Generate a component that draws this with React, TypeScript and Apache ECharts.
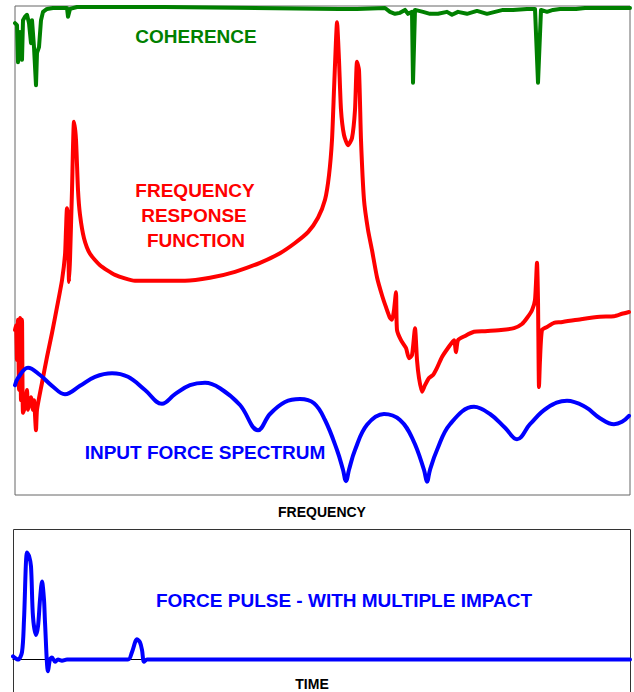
import React, { useEffect, useRef } from "react";
import * as echarts from "echarts";

// Coherence: [frequency (Hz), coherence 0..1]
const coherence: [number, number][] = [
  [0, 0.965], [2, 0.961], [3, 0.885], [5, 0.947], [7, 0.89], [8, 0.971], [10, 0.978],
  [12, 0.982], [14, 0.965], [16, 0.924], [17, 0.971], [19, 0.916], [21, 0.838], [22, 0.904],
  [24, 0.916], [26, 0.971], [28, 0.988], [32, 0.994], [38, 0.996], [52, 0.996], [53, 0.978],
  [55, 0.994], [62, 0.998], [150, 0.998], [324, 0.994], [342, 0.994], [370, 0.996],
  [375, 0.988], [380, 0.984], [385, 0.986], [390, 0.992], [393, 0.984], [397, 0.988],
  [398, 0.843], [400, 0.992], [408, 0.988], [415, 0.984], [423, 0.984], [432, 0.988],
  [437, 0.982], [443, 0.988], [452, 0.984], [462, 0.99], [472, 0.984], [480, 0.988],
  [488, 0.992], [498, 0.992], [512, 0.994], [520, 0.994], [523, 0.843], [526, 0.992],
  [532, 0.988], [538, 0.992], [545, 0.994], [561, 0.994], [570, 0.996], [615, 0.996],
];

// Frequency response function magnitude: [frequency (Hz), dB]
const frf: [number, number][] = [
  [0, -54.0], [1, -53.2], [2, -59.0], [3, -52.3], [4, -64.0], [5, -52.0], [6, -65.7],
  [7, -52.3], [8, -67.8], [10, -66.8], [12, -64.0], [13, -67.3], [16, -65.2], [18, -67.3],
  [19, -65.7], [21, -70.7], [22, -67.3], [27, -62.8], [32, -58.5], [37, -54.5], [42, -50.2],
  [47, -45.7], [50, -41.5], [51, -37.3], [52, -33.7], [53, -34.8], [54, -46.0], [55, -42.3],
  [57, -30.7], [59, -19.3], [61, -22.3], [63, -30.7], [65, -34.8], [69, -38.7], [75, -41.3],
  [85, -43.2], [100, -44.8], [120, -45.8], [145, -45.8], [170, -45.8], [195, -45.3],
  [220, -44.3], [245, -42.8], [265, -41.2], [280, -39.5], [293, -37.7], [303, -35.3],
  [310, -32.3], [314, -28.2], [317, -22.3], [319, -14.0], [321, -5.7], [322, -2.7],
  [324, -9.0], [326, -17.3], [329, -21.5], [333, -23.2], [337, -22.0], [340, -17.3],
  [342, -9.3], [344, -10.7], [346, -22.3], [349, -32.3], [353, -37.3], [357, -40.7],
  [362, -45.2], [367, -48.2], [371, -50.2], [375, -52.0], [377, -52.3], [379, -50.7],
  [381, -47.7], [382, -54.0], [386, -55.7], [391, -57.0], [394, -58.7], [397, -58.2],
  [400, -53.7], [402, -59.0], [404, -62.0], [407, -64.3], [410, -63.2], [414, -62.0],
  [418, -61.5], [422, -60.3], [427, -58.5], [433, -57.0], [439, -55.7], [441, -57.7],
  [443, -55.7], [450, -55.0], [459, -54.3], [470, -54.2], [486, -54.0], [499, -53.7],
  [507, -53.0], [512, -52.0], [517, -50.7], [520, -49.0], [522, -42.8], [523, -49.0],
  [524, -63.5], [525, -59.0], [527, -54.0], [532, -53.5], [539, -52.8], [546, -52.7],
  [566, -52.2], [585, -51.8], [599, -51.7], [607, -51.3], [614, -51.0],
];

// Input force spectrum: [frequency (Hz), dB]
const forceSpectrum: [number, number][] = [
  [0, -63.2], [3, -62.0], [13, -60.3], [25, -61.5], [37, -63.3], [50, -64.7], [65, -63.3],
  [80, -61.8], [97, -61.2], [113, -61.8], [130, -64.0], [147, -66.3], [160, -64.7],
  [175, -63.2], [190, -62.8], [205, -63.7], [225, -66.5], [243, -70.7], [255, -68.0],
  [270, -66.0], [285, -65.5], [299, -66.2], [310, -69.0], [322, -74.0], [328, -77.3],
  [331, -79.2], [334, -77.3], [340, -74.0], [352, -69.8], [369, -68.0], [385, -69.0],
  [398, -72.3], [409, -77.3], [412, -79.3], [415, -77.3], [422, -74.0], [435, -69.7],
  [459, -66.8], [475, -68.0], [490, -70.3], [502, -72.2], [515, -69.7], [532, -67.0],
  [552, -65.8], [570, -66.8], [585, -68.7], [599, -69.7], [607, -69.3], [614, -68.3],
];

// Force pulse in time: [time (ms), normalised force]
const forcePulse: [number, number][] = [
  [0, 0.03], [5, 0], [9, 0.07], [11, 0.37], [14, 1.0], [16, 0.97], [18, 0.87], [20, 0.4],
  [23, 0.23], [25, 0.31], [27, 0.56], [29, 0.73], [31, 0.56], [32, 0.35], [35, -0.11],
  [37, 0], [39, 0.02], [42, -0.02], [45, 0], [49, -0.01], [54, 0], [115, 0], [119, 0.07],
  [124, 0.19], [127, 0.16], [129, 0.09], [131, -0.02], [134, 0], [617, 0],
];

const labels = {
  coherence: "COHERENCE",
  frf: ["FREQUENCY", "RESPONSE", "FUNCTION"],
  spectrum: "INPUT FORCE SPECTRUM",
  pulse: "FORCE PULSE - WITH MULTIPLE IMPACT",
  freqAxis: "FREQUENCY",
  timeAxis: "TIME",
};

const GREEN = "#008000";
const RED = "#ff0000";
const BLUE = "#0000ff";
const FONT = "'Liberation Sans', Arial, sans-serif";

export default function App() {
  const ref = useRef<HTMLDivElement>(null);
  useEffect(() => {
    if (!ref.current) return;
    const chart = echarts.init(ref.current, undefined, { renderer: "svg" });
    const hiddenAxis = { show: false, splitLine: { show: false } };
    const txt = (text: string, x: number, y: number, color: string, size: number) => ({
      type: "text",
      x,
      y,
      z: 100,
      style: {
        text,
        fill: color,
        font: `bold ${size}px ${FONT}`,
        textAlign: "center",
        textVerticalAlign: "middle",
      },
    });
    chart.setOption({
      animation: false,
      backgroundColor: "#ffffff",
      grid: [
        { left: 15, top: 6, width: 615, height: 489, show: true, borderColor: "#666", borderWidth: 1, backgroundColor: "transparent" },
        { left: 13, top: 529, width: 617, height: 163, show: false },
      ],
      xAxis: [
        { type: "value", gridIndex: 0, min: 0, max: 615, ...hiddenAxis },
        {
          type: "value", gridIndex: 1, min: 0, max: 617,
          axisLine: { show: true, onZero: true, lineStyle: { color: "#000", width: 1 } },
          axisTick: { show: false }, axisLabel: { show: false }, splitLine: { show: false },
        },
      ],
      yAxis: [
        { type: "value", gridIndex: 0, min: -81.5, max: 0, ...hiddenAxis },
        { type: "value", gridIndex: 0, min: 0, max: 1, ...hiddenAxis },
        { type: "value", gridIndex: 1, min: -0.303, max: 1.22, ...hiddenAxis },
      ],
      series: [
        {
          type: "line", name: "Coherence", xAxisIndex: 0, yAxisIndex: 1, data: coherence,
          showSymbol: false, smooth: false,
          lineStyle: { color: GREEN, width: 4, join: "round", cap: "round" },
        },
        {
          type: "line", name: "FRF", xAxisIndex: 0, yAxisIndex: 0, data: frf,
          showSymbol: false, smooth: 0.2,
          lineStyle: { color: RED, width: 4, join: "round", cap: "round" },
        },
        {
          type: "line", name: "Input force spectrum", xAxisIndex: 0, yAxisIndex: 0, data: forceSpectrum,
          showSymbol: false, smooth: 0.4,
          lineStyle: { color: BLUE, width: 4, join: "round", cap: "round" },
        },
        {
          type: "line", name: "Force pulse", xAxisIndex: 1, yAxisIndex: 2, data: forcePulse,
          showSymbol: false, smooth: 0.3,
          lineStyle: { color: BLUE, width: 4, join: "round", cap: "round" },
        },
      ],
      graphic: [
        {
          type: "polyline",
          z: 0,
          shape: { points: [[13.5, 700], [13.5, 529.5], [630.5, 529.5], [630.5, 700]] },
          style: { stroke: "#333", lineWidth: 1, fill: "none" },
        },
        txt(labels.coherence, 196, 36, GREEN, 19),
        txt(labels.frf[0], 195, 190, RED, 19),
        txt(labels.frf[1], 194, 215, RED, 19),
        txt(labels.frf[2], 196, 240, RED, 19),
        txt(labels.spectrum, 205, 452, BLUE, 19),
        txt(labels.pulse, 344, 600, BLUE, 19),
        txt(labels.freqAxis, 322, 512, "#000", 14),
        txt(labels.timeAxis, 312, 684, "#000", 14),
      ],
    });
    return () => chart.dispose();
  }, []);
  return (
    <div
      ref={ref}
      style={{ position: "absolute", left: 0, top: 0, width: 634, height: 692, background: "#fff" }}
    />
  );
}
